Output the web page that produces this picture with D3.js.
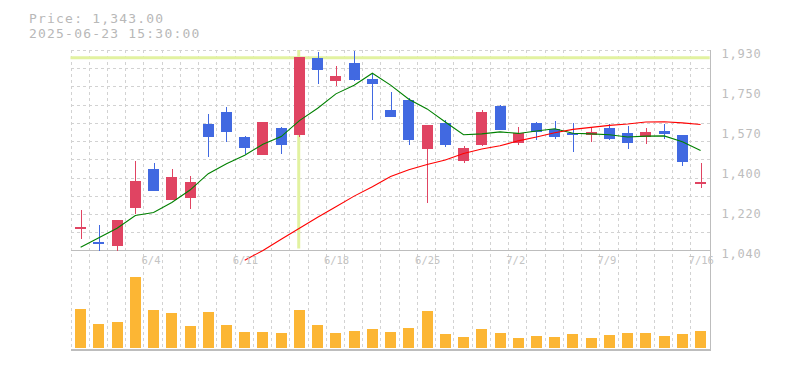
<!DOCTYPE html>
<html><head><meta charset="utf-8">
<script src="https://cdn.jsdelivr.net/npm/d3@7"></script>
<style>
html,body{margin:0;padding:0;background:#fff;}
svg{display:block;}
</style></head>
<body>
<svg id="chart" width="785" height="370"></svg>
<script>
// ---- data ----
const dates = ["5/29","5/30","6/2","6/3","6/4","6/5","6/6","6/9","6/10","6/11","6/12","6/13","6/16","6/17","6/18","6/19","6/20","6/23","6/24","6/25","6/26","6/27","6/30","7/1","7/2","7/3","7/4","7/7","7/8","7/9","7/10","7/11","7/14","7/15","7/16"];
const opens  = [1140,1076,1061,1230,1403,1265,1275,1603,1656,1545,1466,1585,1555,1897,1796,1874,1803,1665,1710,1493,1607,1440,1511,1683,1520,1607,1581,1560,1554,1585,1563,1546,1572,1554,1337];
const highs  = [1220,1153,1176,1438,1429,1403,1372,1647,1679,1550,1612,1590,1901,1923,1861,1930,1831,1745,1719,1598,1621,1505,1665,1688,1590,1612,1616,1607,1585,1603,1594,1585,1603,1555,1431];
const lows   = [1091,1040,1040,1202,1306,1265,1225,1456,1523,1469,1466,1471,1546,1782,1773,1796,1622,1636,1511,1253,1502,1431,1506,1578,1511,1533,1538,1480,1524,1533,1493,1515,1538,1417,1320];
const closes = [1142,1074,1176,1349,1306,1367,1345,1545,1567,1498,1612,1511,1901,1845,1816,1800,1782,1636,1533,1598,1511,1496,1656,1578,1562,1569,1545,1554,1567,1538,1520,1567,1560,1435,1343];
const volumes = [116000,71000,77000,213000,113000,104000,65000,107000,68000,47000,47000,44000,113000,68000,44000,50000,56000,47000,59000,110000,41000,32000,56000,44000,29000,35000,32000,41000,29000,38000,44000,44000,35000,41000,50000];
const ma5  = [1054,1097,1139,1196,1209,1254,1309,1382,1426,1464,1513,1547,1618,1673,1737,1775,1829,1776,1713,1670,1612,1555,1559,1568,1561,1572,1582,1562,1559,1555,1545,1549,1550,1524,1485];
const ma25 = [null,null,null,null,null,null,null,null,null,997,1040,1090,1139,1188,1235,1282,1324,1369,1399,1423,1443,1472,1492,1506,1528,1545,1564,1579,1588,1597,1603,1612,1613,1608,1601];
const yTickValues = [1930,1752,1574,1396,1218,1040];
const yTickLabels = ["1,930","1,750","1,570","1,400","1,220","1,040"];
const xTickIndex  = [4,9,14,19,24,29,34];
const xTickLabels = ["6/4","6/11","6/18","6/25","7/2","7/9","7/16"];
const infoLines = ["Price: 1,343.00","2025-06-23 15:30:00"];
const crossIndex = 12, crossPrice = 1898;

// ---- layout ----
const L = 70.5, R = 708.7, T = 50, B = 250.5, VB = 348, VBline = 350;
const svg = d3.select("#chart");
const x = d3.scaleBand().domain(d3.range(dates.length)).range([L, R]).paddingInner(0).paddingOuter(0);
const step = x.bandwidth();
const cx = i => x(i) + step/2 + 1;
const y = d3.scaleLinear().domain([1040,1930]).range([B, T+0.5]);
const yv = d3.scaleLinear().domain([0,300000]).range([VB, 248]);

const up = "#e04462", down = "#4169e1", grid = "#d2d2d2", axis = "#bdbdbd";

// grid
const g = svg.append("g").attr("shape-rendering","crispEdges");
for (let k = 0; k <= dates.length; k++) {
  const gx = Math.round(L + k*step) + 0.5;
  if (gx > R) break;
  g.append("line").attr("x1",gx).attr("x2",gx).attr("y1",T).attr("y2",VBline)
    .attr("stroke",grid).attr("stroke-dasharray","3,3");
}
for (let k = 1; k <= 11; k++) {
  const gy = Math.round(B - k*step) + 0.5;
  g.append("line").attr("x1",L).attr("x2",R+1).attr("y1",gy).attr("y2",gy)
    .attr("stroke",grid).attr("stroke-dasharray","3,3");
}

// crosshair
svg.append("line").attr("x1",L).attr("x2",R+1).attr("y1",y(crossPrice)).attr("y2",y(crossPrice))
  .attr("stroke","#e2f2a0").attr("stroke-width",3);
svg.append("line").attr("x1",cx(crossIndex)-0.7).attr("x2",cx(crossIndex)-0.7).attr("y1",T).attr("y2",B-2)
  .attr("stroke","#e2f2a0").attr("stroke-width",3);

// axes lines
const ax = svg.append("g").attr("shape-rendering","crispEdges");
ax.append("line").attr("x1",L).attr("x2",711).attr("y1",250.5).attr("y2",250.5).attr("stroke",axis).attr("stroke-width",1.5);
ax.append("line").attr("x1",L).attr("x2",711).attr("y1",VBline).attr("y2",VBline).attr("stroke",axis).attr("stroke-width",1.5);
ax.append("line").attr("x1",710.5).attr("x2",710.5).attr("y1",T).attr("y2",VBline+0.7).attr("stroke",axis).attr("stroke-width",1.5);

// volume bars
svg.append("g").attr("shape-rendering","crispEdges").selectAll("rect").data(volumes).join("rect")
  .attr("x",(d,i)=>Math.round(cx(i)-5.5)).attr("width",11)
  .attr("y",d=>yv(d)).attr("height",d=>VB-yv(d)).attr("fill","#fcb634");

// candles
const cg = svg.append("g").attr("shape-rendering","crispEdges");
dates.forEach((d,i)=>{
  const col = closes[i] >= opens[i] ? up : down;
  const xc = Math.round(cx(i)) + 0.5;
  cg.append("line").attr("x1",xc).attr("x2",xc).attr("y1",y(highs[i])).attr("y2",y(lows[i]))
    .attr("stroke",col).attr("stroke-width",1.2);
  const top = y(Math.max(opens[i],closes[i])), bot = y(Math.min(opens[i],closes[i]));
  const h = Math.max(bot-top, 2);
  cg.append("rect").attr("x",Math.round(cx(i)-5.5)).attr("width",11)
    .attr("y",top - (h > bot-top ? (h-(bot-top))/2 : 0)).attr("height",h).attr("fill",col);
});

// moving averages
const line = d3.line().defined(d=>d.v!=null).x(d=>cx(d.i)).y(d=>y(d.v));
svg.append("path").attr("d",line(ma5.map((v,i)=>({i,v})))).attr("fill","none").attr("stroke","#008000").attr("stroke-width",1.1);
svg.append("path").attr("d",line(ma25.map((v,i)=>({i,v})))).attr("fill","none").attr("stroke","#ff0000").attr("stroke-width",1.1);

// y labels
const font = "'DejaVu Sans Mono', monospace";
svg.append("g").selectAll("text").data(yTickValues).join("text")
  .attr("x",721.5).attr("y",d=>y(d)+7).text((d,i)=>yTickLabels[i])
  .attr("font-family",font).attr("font-size",12).attr("letter-spacing","0.8px").attr("fill","#bdbdbd");

// x labels
svg.append("g").selectAll("text").data(xTickIndex).join("text")
  .attr("x",d=>cx(d)-12).attr("y",264).text((d,i)=>xTickLabels[i])
  .attr("font-family",font).attr("font-size",10.5).attr("fill","#c4c4c4");

// info text
svg.append("g").selectAll("text").data(infoLines).join("text")
  .attr("x",29).attr("y",(d,i)=>22.7+i*15).text(d=>d)
  .attr("font-family",font).attr("font-size",13).attr("letter-spacing","1.2px").attr("fill","#b8b8b8");
</script>
</body></html>
